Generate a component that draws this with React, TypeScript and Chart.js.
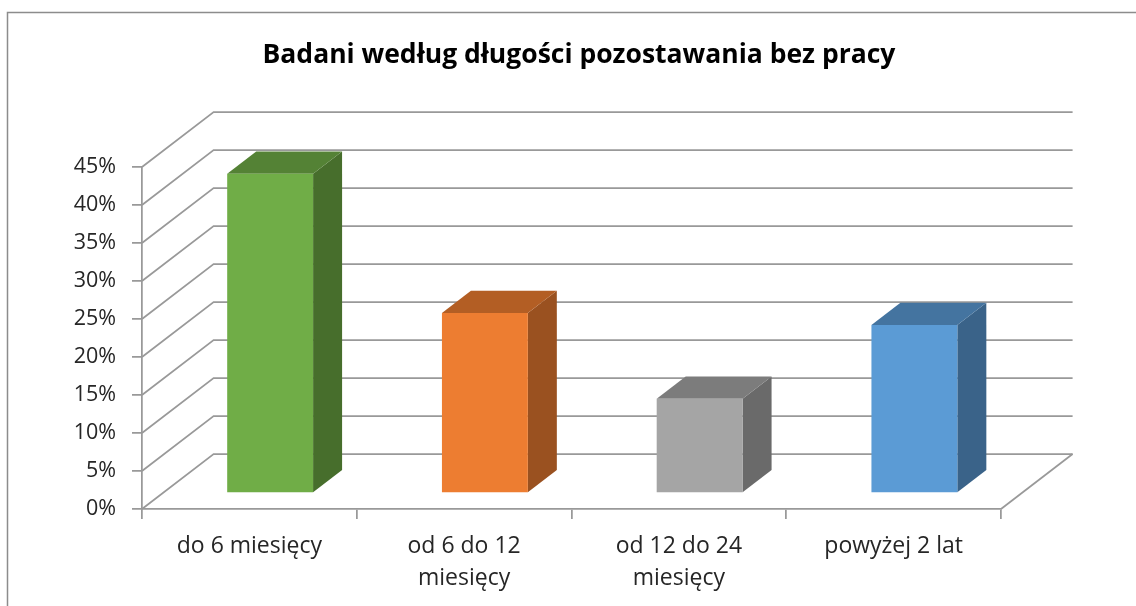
import React, { useEffect, useRef } from "react";
import { Chart, registerables } from "chart.js";

Chart.register(...registerables);

const categories: string[][] = [
  ["do 6 miesięcy"],
  ["od 6 do 12", "miesięcy"],
  ["od 12 do 24", "miesięcy"],
  ["powyżej 2 lat"],
];
const values: number[] = [0.42, 0.237, 0.124, 0.221];
const frontColors: string[] = ["#70AD47", "#ED7D31", "#A5A5A5", "#5B9BD5"];
const topColors: string[] = ["#548235", "#B35E24", "#7C7C7C", "#4474A0"];
const sideColors: string[] = ["#476E2C", "#9A5120", "#6A6A6A", "#3A6389"];
const yMax = 0.45;
const yStep = 0.05;
const titleText = "Badani według długości pozostawania bez pracy";

const FONT = "'Open Sans', 'Noto Sans', sans-serif";
const LINE = "#999999";
// 3D projection constants (styling)
const DX = 71.6;
const DY = -55;
const FRONT_F = 0.29; // fraction of depth where bar front face sits
const BAR_F = 0.405; // fraction of depth the bar occupies

const box3d = {
  id: "box3d",
  beforeDraw(chart: any) {
    const ctx = chart.ctx;
    ctx.save();
    // outer border
    ctx.strokeStyle = "#8c8c8c";
    ctx.lineWidth = 1.5;
    ctx.beginPath();
    ctx.moveTo(7.5, 606);
    ctx.lineTo(7.5, 12.5);
    ctx.lineTo(1136, 12.5);
    ctx.stroke();
    // title
    ctx.fillStyle = "#000";
    ctx.font = `bold 26.5px ${FONT}`;
    ctx.textAlign = "center";
    ctx.textBaseline = "alphabetic";
    ctx.fillText(titleText, 579, 63);
    ctx.restore();
  },
  beforeDatasetsDraw(chart: any) {
    const ctx = chart.ctx;
    const { left, right, bottom } = chart.chartArea;
    const y = chart.scales.y;
    ctx.save();
    ctx.strokeStyle = LINE;
    ctx.lineWidth = 1.75;
    for (let v = 0; v <= yMax + 1e-9; v += yStep) {
      const py = y.getPixelForValue(v);
      ctx.beginPath();
      ctx.moveTo(left, py);
      ctx.lineTo(left + DX, py + DY);
      ctx.lineTo(right + DX, py + DY);
      ctx.stroke();
    }
    ctx.beginPath();
    ctx.moveTo(right, bottom);
    ctx.lineTo(right + DX, bottom + DY);
    ctx.stroke();

    // bar side and top faces
    const fx = DX * FRONT_F;
    const fy = DY * FRONT_F;
    const bx = DX * BAR_F;
    const by = DY * BAR_F;
    const meta = chart.getDatasetMeta(0);
    meta.data.forEach((bar: any, i: number) => {
      const p = bar.getProps(["x", "y", "base", "width"], true);
      const l = p.x - p.width / 2 + fx;
      const r = p.x + p.width / 2 + fx;
      const t = p.y + fy;
      const b = p.base + fy;
      ctx.fillStyle = sideColors[i];
      ctx.beginPath();
      ctx.moveTo(r, t);
      ctx.lineTo(r + bx, t + by);
      ctx.lineTo(r + bx, b + by);
      ctx.lineTo(r, b);
      ctx.closePath();
      ctx.fill();
      ctx.fillStyle = topColors[i];
      ctx.beginPath();
      ctx.moveTo(l, t);
      ctx.lineTo(l + bx, t + by);
      ctx.lineTo(r + bx, t + by);
      ctx.lineTo(r, t);
      ctx.closePath();
      ctx.fill();
    });
    ctx.restore();
    ctx.save();
    ctx.translate(fx, fy);
  },
  afterDatasetsDraw(chart: any) {
    chart.ctx.restore();
  },
};

export default function App() {
  const ref = useRef<HTMLCanvasElement | null>(null);
  useEffect(() => {
    if (!ref.current) return;
    const chart = new Chart(ref.current, {
      type: "bar",
      data: {
        labels: categories,
        datasets: [
          {
            data: values,
            backgroundColor: frontColors,
            borderWidth: 0,
            categoryPercentage: 0.8,
            barPercentage: 0.5,
            clip: false,
          } as any,
        ],
      },
      options: {
        animation: false,
        responsive: false,
        events: [],
        layout: { padding: { left: 0, top: 167, right: 135, bottom: 0 } },
        plugins: {
          legend: { display: false },
          title: { display: false },
          tooltip: { enabled: false },
        },
        scales: {
          x: {
            grid: {
              display: true,
              drawOnChartArea: false,
              drawTicks: true,
              tickLength: 10,
              color: LINE,
              lineWidth: 1.75,
              offset: true,
            },
            border: { display: true, color: LINE, width: 1.75 },
            ticks: {
              color: "#262626",
              font: { family: FONT, size: 23, lineHeight: 1.39 },
              padding: 11,
              maxRotation: 0,
              autoSkip: false,
            },
            afterFit: (s: any) => {
              s.height = 97;
            },
          },
          y: {
            min: 0,
            max: yMax,
            grid: {
              display: true,
              drawOnChartArea: false,
              drawTicks: true,
              tickLength: 10,
              color: LINE,
              lineWidth: 1.75,
            },
            border: { display: true, color: LINE, width: 1.75 },
            ticks: {
              stepSize: yStep,
              color: "#262626",
              font: { family: FONT, size: 21.5 },
              padding: 16,
              callback: (v: any) => Math.round(Number(v) * 100) + "%",
            },
            afterFit: (s: any) => {
              s.width = 142;
            },
          },
        },
      },
      plugins: [box3d],
    });
    return () => chart.destroy();
  }, []);
  return (
    <div style={{ position: "absolute", left: 0, top: 0, width: 1136, height: 606, background: "#fff" }}>
      <canvas ref={ref} width={1136} height={606} style={{ display: "block" }} />
    </div>
  );
}
